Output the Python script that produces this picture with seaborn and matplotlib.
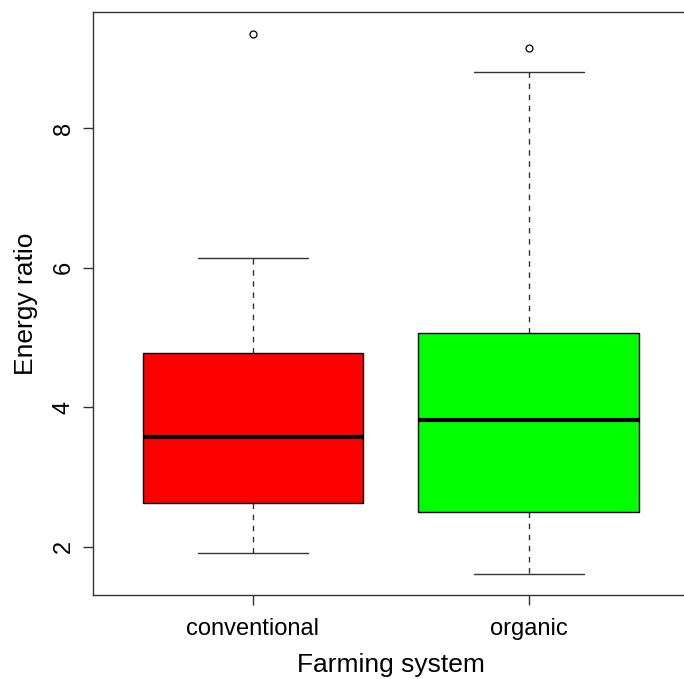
import numpy as np
import pandas as pd
import matplotlib
matplotlib.use("Agg")
import matplotlib.pyplot as plt
import seaborn as sns

# Data (estimated from reference)
categories = ["conventional", "organic"]
conventional_values = [1.90, 2.30, 2.63, 3.10, 3.57, 4.20, 4.77, 6.14, 9.36]
organic_values = [1.61, 2.00, 2.49, 3.20, 3.81, 4.40, 5.06, 8.81, 9.16]
box_colors = ["#FF0000", "#00FF00"]
y_ticks = [2, 4, 6, 8]

df = pd.DataFrame({
    "system": [categories[0]] * len(conventional_values) + [categories[1]] * len(organic_values),
    "ratio": conventional_values + organic_values,
})

sns.set_style("ticks")
plt.rcParams["font.family"] = ["Liberation Sans", "DejaVu Sans"]
plt.rcParams["text.color"] = "black"
plt.rcParams["axes.labelcolor"] = "black"
plt.rcParams["xtick.labelcolor"] = "black"
plt.rcParams["ytick.labelcolor"] = "black"

fig = plt.figure(figsize=(6.84, 6.79), dpi=100)
W, H = 684, 679
left, right, bottom, top = 93, 688.6, 595.3, 12
ax = fig.add_axes([left / W, 1 - bottom / H, (right - left) / W, (bottom - top) / H])

sns.boxplot(
    data=df, x="system", y="ratio", hue="system", order=categories,
    palette=box_colors, legend=False, ax=ax, width=0.8, whis=1.5,
    linecolor="black", linewidth=1.0, saturation=1,
    whiskerprops=dict(linestyle=(0, (4, 4)), color="#333333", linewidth=1.0),
    capprops=dict(color="#333333", linewidth=1.0),
    medianprops=dict(color="black", linewidth=3),
    flierprops=dict(marker="o", markerfacecolor="none", markeredgecolor="black",
                    markersize=5, markeredgewidth=0.9),
)

ax.set_xlim(-0.58, 1.58)
ax.set_ylim(1.30, 9.67)
ax.set_yticks(y_ticks)
ax.set_yticklabels([str(t) for t in y_ticks], rotation=90, va="center")
ax.tick_params(axis="both", length=7, width=1, color="#333333", labelsize=17, pad=6,
               direction="out", labelcolor="black")
ax.tick_params(axis="x", pad=9)
ax.set_xlabel("Farming system", fontsize=19, labelpad=10, color="black")
ax.set_ylabel("Energy ratio", fontsize=19, labelpad=11, color="black")
for s in ["left", "top", "bottom", "right"]:
    ax.spines[s].set_visible(True)
    ax.spines[s].set_color("#333333")
    ax.spines[s].set_linewidth(1.0)

fig.savefig("out.png", dpi=100)
